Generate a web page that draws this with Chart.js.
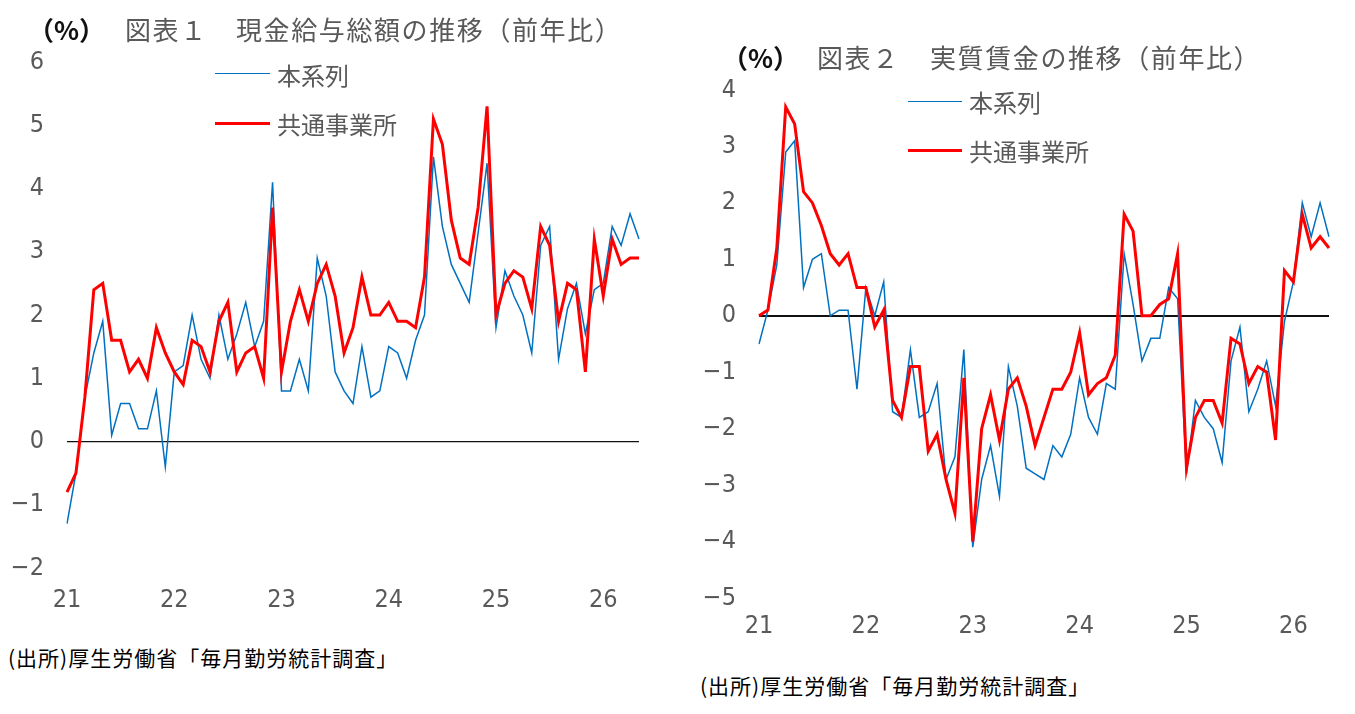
<!DOCTYPE html>
<html lang="ja">
<head>
<meta charset="utf-8">
<title>現金給与総額・実質賃金の推移</title>
<script src="https://cdn.jsdelivr.net/npm/chart.js@4.4.1/dist/chart.umd.min.js"></script>
<style>
  html, body { margin: 0; padding: 0; background: #fff; }
  body { position: relative; width: 1355px; height: 714px; overflow: hidden;
         font-family: "Noto Sans CJK JP", sans-serif; }
  canvas { position: absolute; top: 0; }
  .t { position: absolute; white-space: nowrap; line-height: 1; }
  .title { font-size: 26px; color: #595959; letter-spacing: 1.6px; }
  .pct { font-size: 26px; color: #111; font-weight: bold; }
  .leg { font-size: 24px; color: #595959; }
  .legline { position: absolute; height: 0; }
  .src { font-size: 21px; color: #000; letter-spacing: 1px; }
</style>
</head>
<body>

<canvas id="chart1" width="660" height="620" style="left:0px"></canvas>
<canvas id="chart2" width="665" height="650" style="left:690px"></canvas>

<!-- chart 1 title / legend / source -->
<span class="t pct" style="left:28px; top:16px">（%）</span>
<span class="t title" style="left:125px; top:16px">図表１</span>
<span class="t title" style="left:236px; top:16px">現金給与総額の推移（前年比）</span>

<div class="legline" style="left:215px; top:73px; width:55px; border-top:1.5px solid #0070C0"></div>
<span class="t leg" style="left:277px; top:63px">本系列</span>
<div class="legline" style="left:215px; top:122px; width:55px; border-top:3px solid #FF0000"></div>
<span class="t leg" style="left:277px; top:112px">共通事業所</span>

<span class="t src" style="left:8px; top:647px">(出所)厚生労働省「毎月勤労統計調査」</span>

<!-- chart 2 title / legend / source -->
<span class="t pct" style="left:722px; top:44px">（%）</span>
<span class="t title" style="left:817px; top:44px">図表２</span>
<span class="t title" style="left:930px; top:44px">実質賃金の推移（前年比）</span>

<div class="legline" style="left:908px; top:101px; width:54px; border-top:1.5px solid #0070C0"></div>
<span class="t leg" style="left:969px; top:90px">本系列</span>
<div class="legline" style="left:908px; top:149px; width:54px; border-top:3px solid #FF0000"></div>
<span class="t leg" style="left:969px; top:139px">共通事業所</span>

<span class="t src" style="left:700px; top:675px">(出所)厚生労働省「毎月勤労統計調査」</span>

<script>
// year labels shown on the x axis (one tick every 12 months, Jan 2021 .. May 2026)
const yearLabels = ['21', '22', '23', '24', '25', '26'];
const monthCount = 65;

// 図表１ 現金給与総額（前年比, %）
const cashHonkeiretsu = [
  -1.3, -0.5, 0.7, 1.4, 1.9, 0.1, 0.6, 0.6, 0.2, 0.2, 0.8, -0.4,
  1.1, 1.2, 2.0, 1.3, 1.0, 2.0, 1.3, 1.7, 2.2, 1.5, 1.9, 4.1,
  0.8, 0.8, 1.3, 0.8, 2.9, 2.3, 1.1, 0.8, 0.6, 1.5, 0.7, 0.8,
  1.5, 1.4, 1.0, 1.6, 2.0, 4.5, 3.4, 2.8, 2.5, 2.2, 3.3, 4.4,
  1.8, 2.7, 2.3, 2.0, 1.4, 3.1, 3.4, 1.3, 2.1, 2.5, 1.7, 2.4,
  2.5, 3.4, 3.1, 3.6, 3.2
];
const cashKyotsu = [
  -0.8, -0.5, 0.7, 2.4, 2.5, 1.6, 1.6, 1.1, 1.3, 1.0, 1.8, 1.4,
  1.1, 0.9, 1.6, 1.5, 1.1, 1.9, 2.2, 1.1, 1.4, 1.5, 1.0, 3.7,
  1.1, 1.9, 2.4, 1.9, 2.5, 2.8, 2.3, 1.4, 1.8, 2.6, 2.0, 2.0,
  2.2, 1.9, 1.9, 1.8, 2.6, 5.1, 4.7, 3.5, 2.9, 2.8, 3.7, 5.3,
  2.0, 2.5, 2.7, 2.6, 2.1, 3.4, 3.1, 1.9, 2.5, 2.4, 1.1, 3.2,
  2.3, 3.2, 2.8, 2.9, 2.9
];

// 図表２ 実質賃金（前年比, %）
const realHonkeiretsu = [
  -0.5, 0.1, 0.9, 2.9, 3.1, 0.5, 1.0, 1.1, 0.0, 0.1, 0.1, -1.3,
  0.5, 0.0, 0.6, -1.7, -1.8, -0.6, -1.8, -1.7, -1.2, -2.9, -2.5, -0.6,
  -4.1, -2.9, -2.3, -3.2, -0.9, -1.6, -2.7, -2.8, -2.9, -2.3, -2.5, -2.1,
  -1.1, -1.8, -2.1, -1.2, -1.3, 1.1, 0.2, -0.8, -0.4, -0.4, 0.5, 0.3,
  -2.8, -1.5, -1.8, -2.0, -2.6, -0.8, -0.2, -1.7, -1.3, -0.8, -1.6, -0.1,
  0.6, 2.0, 1.4, 2.0, 1.4
];
const realKyotsu = [
  0.0, 0.1, 1.2, 3.7, 3.4, 2.2, 2.0, 1.6, 1.1, 0.9, 1.1, 0.5,
  0.5, -0.2, 0.1, -1.5, -1.8, -0.9, -0.9, -2.4, -2.1, -2.9, -3.5, -1.1,
  -4.0, -2.0, -1.4, -2.2, -1.3, -1.1, -1.6, -2.3, -1.8, -1.3, -1.3, -1.0,
  -0.3, -1.4, -1.2, -1.1, -0.7, 1.8, 1.5, 0.0, 0.0, 0.2, 0.3, 1.1,
  -2.7, -1.8, -1.5, -1.5, -1.9, -0.4, -0.5, -1.2, -0.9, -1.0, -2.2, 0.8,
  0.6, 1.8, 1.2, 1.4, 1.2
];

const months = [];
for (let i = 0; i < monthCount; i++) {
  months.push(yearLabels[Math.floor(i / 12)] + '/' + ((i % 12) + 1));
}

const tickFont = { family: '"Liberation Sans Narrow", "DejaVu Sans Condensed", sans-serif', size: 25 };

function makeChart(id, red, blue, yMin, yMax, pad, zeroWidth, xPad) {
  const ctx = document.getElementById(id).getContext('2d');
  return new Chart(ctx, {
    type: 'line',
    data: {
      labels: months,
      datasets: [
        // red first so it is drawn on top of the blue line
        { label: '共通事業所', data: red, borderColor: '#FF0000', borderWidth: 3,
          pointRadius: 0, tension: 0, fill: false },
        { label: '本系列', data: blue, borderColor: '#0070C0', borderWidth: 1.5,
          pointRadius: 0, tension: 0, fill: false }
      ]
    },
    options: {
      responsive: false,
      animation: false,
      devicePixelRatio: 1,
      layout: { padding: pad },
      plugins: { legend: { display: false }, tooltip: { enabled: false } },
      scales: {
        x: {
          grid: { display: false },
          border: { display: false },
          afterFit: (s) => { s.height = 52; },
          ticks: {
            autoSkip: false,
            maxRotation: 0,
            padding: xPad,
            color: '#595959',
            font: tickFont,
            callback: (val, idx) => (idx % 12 === 0 ? yearLabels[idx / 12] : '')
          }
        },
        y: {
          min: yMin,
          max: yMax,
          border: { display: false },
          afterFit: (s) => { s.width = pad.yWidth; },
          grid: {
            drawTicks: false,
            color: (c) => (c.tick && c.tick.value === 0 ? '#111' : 'transparent'),
            lineWidth: (c) => (c.tick && c.tick.value === 0 ? zeroWidth : 0)
          },
          ticks: {
            stepSize: 1,
            padding: 23,
            color: '#595959',
            font: tickFont,
            callback: (v) => (v < 0 ? '\u2212' + Math.abs(v) : String(v))
          }
        }
      }
    }
  });
}

makeChart('chart1', cashKyotsu, cashHonkeiretsu, -2, 6,
  { left: 0, right: 21, top: 62, bottom: 0, yWidth: 67 }, 1.2, 9);
makeChart('chart2', realKyotsu, realHonkeiretsu, -5, 4,
  { left: 0, right: 26, top: 90, bottom: 0, yWidth: 69 }, 2, 5);
</script>
</body>
</html>
